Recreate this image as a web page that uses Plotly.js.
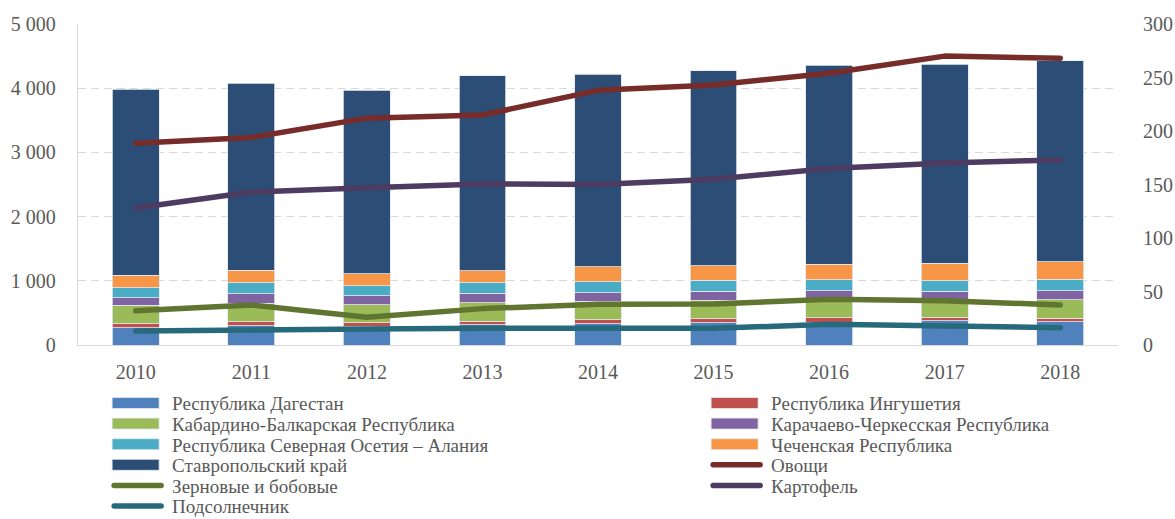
<!DOCTYPE html>
<html>
<head>
<meta charset="utf-8">
<script src="https://cdn.plot.ly/plotly-3.0.1.min.js"></script>
<style>
  body { margin: 0; background: #fff; }
  #chart { width: 1175px; height: 519px; }
</style>
</head>
<body>
<div id="chart"></div>
<script>
// years on the x axis
var years = ['2010', '2011', '2012', '2013', '2014', '2015', '2016', '2017', '2018'];

// regions, stacked bars (left axis)
var dagestan    = [270, 300, 296, 312, 332, 347, 358, 374, 363];
var ingushetia  = [62, 63, 47, 57, 63, 63, 67, 57, 57];
var kbr         = [286, 291, 285, 290, 290, 291, 286, 280, 286];
var kchr        = [119, 144, 140, 146, 130, 135, 135, 125, 140];
var osetia      = [156, 168, 156, 161, 171, 172, 171, 166, 177];
var chechnya    = [197, 202, 182, 192, 234, 223, 240, 270, 270];
var stavropol   = [2893, 2913, 2866, 3037, 2996, 3037, 3100, 3105, 3135];

// crops, lines (right axis)
var ovoshchi    = [188.5, 194, 212, 215, 238, 243, 254, 270, 268];
var zernovye    = [32, 37.4, 25.9, 34, 38, 38.3, 42.7, 41.4, 37.4];
var kartofel    = [128, 143, 147, 150.5, 150, 155, 165, 170, 173];
var podsolnech  = [13, 14.6, 15, 15.6, 15.6, 15.6, 19.3, 17.8, 16.2];

var barNames = ['Республика Дагестан', 'Республика Ингушетия',
                'Кабардино-Балкарская Республика', 'Карачаево-Черкесская Республика',
                'Республика Северная Осетия – Алания', 'Чеченская Республика',
                'Ставропольский край'];
var barValues = [dagestan, ingushetia, kbr, kchr, osetia, chechnya, stavropol];
var barColors = ['#4F81BD', '#C0504D', '#9BBB59', '#8064A2', '#4BACC6', '#F79646', '#2C4D75'];

var lineNames = ['Овощи', 'Зерновые и бобовые', 'Картофель', 'Подсолнечник'];
var lineValues = [ovoshchi, zernovye, kartofel, podsolnech];
var lineColors = ['#772C2A', '#5F7530', '#4D3B62', '#276A7C'];

var data = [];
for (var i = 0; i < barNames.length; i++) {
  data.push({
    type: 'bar',
    x: years,
    y: barValues[i],
    name: barNames[i],
    marker: { color: barColors[i], line: { color: '#E3E8EF', width: 0.8 } },
    hoverinfo: 'skip'
  });
}
for (var j = 0; j < lineNames.length; j++) {
  data.push({
    type: 'scatter',
    mode: 'lines',
    x: years,
    y: lineValues[j],
    name: lineNames[j],
    yaxis: 'y2',
    line: { color: lineColors[j], width: 5.5 },
    hoverinfo: 'skip'
  });
}

var tickFont = { family: 'Liberation Serif, Times New Roman, serif', size: 20, color: '#595959' };

var layout = {
  width: 1175,
  height: 519,
  barmode: 'stack',
  bargap: 0.595,
  separators: ', ',
  paper_bgcolor: '#ffffff',
  plot_bgcolor: '#ffffff',
  margin: { l: 78, r: 57, t: 24, b: 174, autoexpand: false },
  font: tickFont,
  xaxis: {
    type: 'category',
    showline: true,
    linecolor: '#D9D9D9',
    linewidth: 1.3,
    showgrid: false,
    ticks: 'outside',
    ticklen: 9,
    tickcolor: 'rgba(0,0,0,0)',
    tickfont: tickFont
  },
  yaxis: {
    range: [0, 5000],
    dtick: 1000,
    separatethousands: true,
    showline: true,
    linecolor: '#D9D9D9',
    linewidth: 1.3,
    gridcolor: '#D9D9D9',
    gridwidth: 1.3,
    griddash: '8px,5px',
    zeroline: false,
    ticks: 'outside',
    ticklen: 17,
    tickcolor: 'rgba(0,0,0,0)',
    tickfont: tickFont
  },
  yaxis2: {
    range: [0, 300],
    dtick: 50,
    overlaying: 'y',
    side: 'right',
    showgrid: false,
    showline: false,
    zeroline: false,
    ticks: 'outside',
    ticklen: 20,
    tickcolor: 'rgba(0,0,0,0)',
    tickfont: tickFont
  },
  showlegend: true,
  legend: {
    orientation: 'v',
    x: 0.028,
    xanchor: 'left',
    y: -0.134,
    yanchor: 'top',
    itemwidth: 55,
    traceorder: 'normal',
    font: { family: 'Liberation Serif, Times New Roman, serif', size: 19, color: '#595959' },
    bgcolor: 'rgba(0,0,0,0)'
  }
};

// Excel-style legend: two columns, tight rows, wide symbols
var colStep = 599;
var rowStep = 20.6;
var firstRowY = 403;   // page y of the first legend row

Plotly.newPlot('chart', data, layout, { staticPlot: true }).then(function (gd) {
  var box = gd.querySelector('.legend .scrollbox');
  if (box) box.removeAttribute('clip-path');
  var items = gd.querySelectorAll('.legend g.traces');
  var first = items[0].getAttribute('transform').match(/translate\(([-\d.]+)[ ,]+([-\d.]+)\)/);
  var x0 = parseFloat(first[1]);
  var y0 = parseFloat(first[2]);

  items.forEach(function (g, k) {
    var bar = g.querySelector('.legendpoints path');
    if (bar && k < barNames.length) {
      bar.setAttribute('d', 'M5,5.5h47v-11h-47Z');
      bar.removeAttribute('transform');
    }
    var ln = g.querySelector('.legendlines path');
    if (ln) {
      ln.setAttribute('d', 'M7,0h47');
      ln.style.strokeLinecap = 'round';
    }
  });

  // where does row 0 sit on the page now? shift so it lands on firstRowY
  var sym = items[0].querySelector('.legendpoints path');
  var r = sym.getBoundingClientRect();
  var shift = firstRowY - (r.top + r.height / 2);

  items.forEach(function (g, k) {
    var col = k % 2;
    var row = Math.floor(k / 2);
    g.setAttribute('transform', 'translate(' + (x0 + col * colStep) + ',' +
                   (y0 + shift + row * rowStep) + ')');
  });

  gd.querySelectorAll('.scatterlayer .js-line').forEach(function (p) {
    p.style.strokeLinecap = 'round';
    p.style.strokeLinejoin = 'round';
  });
});
</script>
</body>
</html>
